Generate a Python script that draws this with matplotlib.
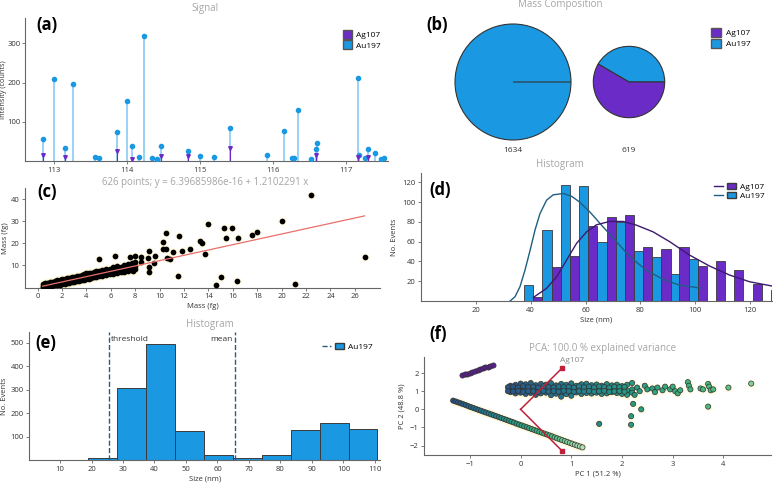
import numpy as np
import matplotlib.pyplot as plt
from matplotlib.lines import Line2D
from matplotlib.patches import Patch
from matplotlib.legend_handler import HandlerTuple
from matplotlib.colors import LinearSegmentedColormap, Normalize

plt.rcParams['font.family'] = ['Open Sans', 'DejaVu Sans']
plt.rcParams['font.size'] = 6

ag_col = '#6a2bc6'
au_col = '#1a98e2'
edge = '#3a3a3a'
grey = '#a5a5a5'

# ---- (a) signal
sig_x = [112.84, 113.0, 113.15, 113.26, 113.56, 113.61, 113.86, 114.0, 114.07, 114.16, 114.23,
         114.34, 114.41, 114.46, 114.83, 114.99, 115.19, 115.41, 115.91, 116.14, 116.25, 116.28,
         116.34, 116.51, 116.59, 116.6, 117.16, 117.17, 117.25, 117.30, 117.39, 117.48, 117.52]
sig_au = [55, 209, 34, 197, 11, 7, 74, 154, 38, 11, 320, 8, 6, 38, 25, 14, 9, 85, 16, 76, 7, 7,
          131, 5, 31, 45, 212, 15, 7, 30, 20, 5, 7]
sig_ag_x = [112.84, 113.15, 113.86, 114.07, 114.46, 114.83, 115.41, 116.59, 117.16, 117.30]
sig_ag = [16, 9, 26, 5, 14, 13, 33, 15, 11, 10]

# ---- (b) mass composition
pie_counts = [1634, 619]
pie_ag = [0.0, 0.584]
pie_au = [1.0, 0.416]

# ---- (c) mass vs mass
c_x = [0.4, 0.6, 0.8, 1.0, 1.2, 1.4, 1.6, 1.8, 2.0, 2.2, 2.4, 2.6, 2.8, 3.0, 3.2, 3.4, 3.6, 3.8,
       4.0, 4.2, 4.4, 4.6, 4.8, 5.0, 5.3, 5.6, 5.9, 6.2, 6.5, 6.8, 7.1, 7.4, 7.7, 8.0]
c_y_mid = [0.5, 0.7, 1.0, 1.2, 1.5, 1.7, 1.9, 2.2, 2.4, 2.7, 2.9, 3.1, 3.4, 3.6, 3.9, 4.1, 4.4, 4.6,
           4.8, 5.1, 5.3, 5.6, 5.8, 6.1, 6.4, 6.8, 7.1, 7.5, 7.9, 8.2, 8.6, 9.0, 9.3, 9.7]
c_y_up = [1.4, 1.8, 2.0, 2.4, 2.6, 2.9, 3.1, 3.4, 3.6, 3.8, 4.1, 4.3, 4.6, 4.8, 5.2, 5.3, 5.7, 6.0,
          6.3, 6.5, 6.6, 7.0, 7.3, 7.4, 7.7, 8.3, 8.5, 9.0, 9.5, 9.3, 10.2, 10.6, 11.0, 11.5]
c_y_lo = [0.2, 0.3, 0.4, 0.5, 0.6, 0.8, 1.0, 1.2, 1.5, 1.6, 1.9, 2.1, 2.3, 2.5, 2.8, 3.0, 3.3, 3.5,
          3.7, 3.9, 4.2, 4.5, 4.6, 4.9, 5.2, 5.6, 5.9, 6.1, 6.6, 6.9, 7.1, 7.6, 7.8, 8.3]
c_out_x = [26.8, 22.4, 20.05, 21.1, 17.95, 17.6, 15.96, 16.4, 16.3, 15.3, 15.4, 15.0, 14.6, 14.0,
           13.7, 13.3, 13.5, 12.5, 11.8, 11.6, 11.5, 11.1, 10.85, 10.5, 10.6, 10.3, 10.25, 10.5,
           9.6, 9.5, 9.1, 9.05, 9.1, 9.1, 8.5, 8.45, 8.0, 7.6, 6.3, 5.0, 7.8]
c_out_y = [13.8, 41.8, 30.3, 1.5, 25.2, 23.9, 26.8, 22.4, 2.7, 26.7, 22.4, 4.5, 0.9, 28.8,
           15.0, 21.1, 20.2, 17.4, 16.4, 23.2, 5.2, 15.8, 12.9, 24.5, 13.3, 20.5, 17.3, 17.3,
           14.1, 10.9, 16.7, 13.2, 7.1, 9.4, 13.9, 11.7, 14.4, 13.9, 14.1, 13.0, 7.3]
fit_a = 6.39685986e-16
fit_b = 1.2102291

# ---- (d) size histogram, two elements
d_bins = [37.6, 44.3, 50.9, 57.6, 64.3, 70.9, 77.6, 84.3, 90.9, 97.6, 104.3, 110.9, 117.6, 124.3]
d_au = [16, 72, 117, 116, 60, 80, 51, 45, 27, 42, 0, 0, 0, 0]
d_ag = [4, 34, 46, 76, 85, 87, 55, 53, 55, 35, 40, 31, 17, 11]
d_au_fit_x = [32.5, 34.3, 36.1, 37.9, 39.8, 41.6, 43.4, 45.8, 48.2, 51.9, 54.9, 57.9, 61.6, 66.4,
              71.3, 76.1, 82.2, 88.2, 94.3, 102.2]
d_au_fit_y = [0, 4.4, 14.5, 31, 51.5, 72, 88.5, 102, 107.4, 108.8, 106, 100, 90, 75, 60, 45, 31,
              22, 16, 13]
d_ag_fit_x = [41.0, 45.8, 49.5, 53.1, 56.7, 60.4, 64.0, 68.8, 73.7, 78.5, 84.6, 90.7, 97.9, 105.2,
              112.5, 119.8, 127.9]
d_ag_fit_y = [3.7, 12.8, 24.6, 41.4, 58.2, 70, 77.1, 80.5, 80.5, 76.8, 70, 60, 46.5, 35.4, 26.3,
              19.5, 15.2]

# ---- (e) size histogram, Au only
e_bins = [18.8, 28.0, 37.2, 46.4, 55.6, 64.8, 74.0, 83.2, 92.4, 101.6]
e_counts = [10, 306, 495, 126, 23, 10, 23, 128, 157, 133]
e_threshold = 25.4
e_mean = 65.7

# ---- (f) PCA scores
f_ag_x = [-1.15, -1.1, -1.05, -1.0, -0.95, -0.9, -0.85, -0.8, -0.75, -0.7, -0.65, -0.6, -0.55]
f_ag_y = [1.88, 1.93, 1.97, 2.02, 2.07, 2.12, 2.16, 2.21, 2.26, 2.31, 2.35, 2.40, 2.45]
f_diag_x = [-1.33, -1.28, -1.23, -1.18, -1.13, -1.08, -1.03, -0.98, -0.93, -0.88, -0.83, -0.78,
            -0.73, -0.68, -0.63, -0.58, -0.53, -0.48, -0.43, -0.38, -0.33, -0.28, -0.23, -0.18,
            -0.13, -0.08, -0.03, 0.02, 0.07, 0.12, 0.17, 0.22, 0.27, 0.32, 0.37, 0.42, 0.47,
            0.52, 0.57, 0.62, 0.67, 0.72, 0.77, 0.82, 0.87, 0.92, 0.97, 1.02, 1.07, 1.12, 1.17, 1.22]
f_diag_y = [0.48, 0.43, 0.38, 0.33, 0.28, 0.23, 0.17, 0.12, 0.07, 0.02, -0.03, -0.08, -0.13,
            -0.18, -0.23, -0.28, -0.33, -0.38, -0.43, -0.48, -0.53, -0.58, -0.63, -0.68, -0.73,
            -0.79, -0.84, -0.89, -0.94, -0.99, -1.04, -1.09, -1.14, -1.19, -1.24, -1.29, -1.34,
            -1.39, -1.44, -1.49, -1.55, -1.60, -1.65, -1.70, -1.75, -1.80, -1.85, -1.90, -1.95,
            -2.00, -2.05, -2.10]
f_band_x = [-0.2, -0.1, 0.0, 0.1, 0.2, 0.3, 0.4, 0.5, 0.6, 0.7, 0.8, 0.9, 1.0, 1.1, 1.2, 1.3,
            1.4, 1.5, 1.6, 1.7, 1.8, 1.9, 2.0, 2.1, 2.2]
f_band_up = [1.30, 1.35, 1.42, 1.38, 1.45, 1.33, 1.40, 1.36, 1.44, 1.32, 1.40, 1.35, 1.43, 1.30,
             1.38, 1.41, 1.33, 1.37, 1.30, 1.39, 1.32, 1.36, 1.28, 1.35, 1.45]
f_band_mid = [1.10, 1.15, 1.05, 1.12, 1.08, 1.15, 1.02, 1.10, 1.13, 1.06, 1.12, 1.08, 1.15, 1.05,
              1.10, 1.12, 1.06, 1.14, 1.08, 1.10, 1.05, 1.12, 1.08, 1.02, 1.10]
f_band_lo = [0.95, 0.88, 0.92, 0.85, 0.90, 0.80, 0.88, 0.92, 0.78, 0.86, 0.90, 0.84, 0.88, 0.93,
             0.85, 0.90, 0.87, 0.92, 0.85, 0.88, 0.95, 0.90, 0.85, 0.80, 0.92]
f_band_x2 = [-0.25, -0.15, -0.05, 0.05, 0.15, 0.25, 0.35, 0.45, 0.55, 0.65, 0.75, 0.85, 0.95,
             1.05, 1.15, 1.25, 1.35, 1.45, 1.55, 1.65, 1.75, 1.85, 1.95, 2.05]
f_band_y2a = [1.22, 1.25, 1.20, 1.28, 1.22, 1.25, 1.20, 1.27, 1.23, 1.21, 1.26, 1.22, 1.24, 1.20,
              1.27, 1.22, 1.25, 1.21, 1.26, 1.23, 1.20, 1.25, 1.22, 1.24]
f_band_y2b = [1.00, 0.98, 1.02, 0.97, 1.00, 0.99, 0.96, 1.01, 0.98, 1.00, 0.97, 1.02, 0.99, 0.96,
              1.00, 0.98, 1.01, 0.97, 0.99, 1.02, 0.96, 0.99, 1.00, 0.97]
f_sparse_x = [2.3, 2.35, 2.45, 2.5, 2.6, 2.65, 2.7, 2.8, 2.85, 2.95, 3.0, 3.05, 3.1, 3.15, 3.3,
              3.32, 3.35, 3.55, 3.6, 3.7, 3.72, 3.75, 3.8, 4.1, 4.55, 0.8, 1.0, 2.25,
              1.55, 2.18, 2.18, 2.22, 2.38, 3.7]
f_sparse_y = [1.2, 1.0, 1.3, 1.1, 1.15, 0.95, 1.2, 1.05, 1.25, 1.1, 1.25, 1.0, 0.88, 1.05, 1.5,
              1.3, 1.1, 1.15, 1.1, 1.4, 1.25, 1.05, 1.1, 1.2, 1.42, 0.7, 0.75, 0.8,
              -0.8, -0.38, -0.85, 0.3, 0.0, 0.15]
f_load_x = [0.82, 0.82]
f_load_y = [2.28, -2.3]


def box(l, t, r, b):
    return [l / 773, 1 - b / 486, (r - l) / 773, (b - t) / 486]


def style(ax):
    for s in ['top', 'right']:
        ax.spines[s].set_visible(False)
    for s in ['left', 'bottom']:
        ax.spines[s].set_color('#666666')
        ax.spines[s].set_linewidth(0.8)
    ax.tick_params(labelsize=5.5, colors='#666666', labelcolor='#333333', length=2.5, width=0.6,
                   pad=1.5)


def labels(ax, xl, yl, ylx, size=5.5):
    if xl:
        ax.set_xlabel(xl, fontsize=5.5, color='#333333', labelpad=2)
    ax.set_ylabel(yl, fontsize=size, color='#333333')
    ax.yaxis.set_label_coords(ylx, 0.5)


def ftext(x, y, s, **kw):
    fig.text(x / 773, 1 - y / 486, s, **kw)


fig = plt.figure(figsize=(7.73, 4.86), dpi=100)

# ---------------- (a)
ax = fig.add_axes(box(25, 18, 388, 161))
style(ax)
ax.tick_params(axis='y', length=2, pad=1)
ax.vlines(sig_x, 0, sig_au, color='#7cc6f2', lw=1.1, zorder=2)
ax.plot(sig_x, sig_au, 'o', color=au_col, ms=3.0, zorder=3)
ax.vlines(sig_ag_x, 0, sig_ag, color=ag_col, lw=0.8, zorder=3)
ax.plot(sig_ag_x, sig_ag, 'v', color=ag_col, ms=2.6, zorder=4)
ax.set_xlim(112.6, 117.57)
ax.set_ylim(0, 365)
ax.set_xticks([113, 114, 115, 116, 117])
ax.set_yticks([100, 200, 300])
labels(ax, None, 'Intensity (counts)', -0.049, size=5.2)
ax.legend(handles=[Patch(facecolor=ag_col, edgecolor='#555'), Patch(facecolor=au_col, edgecolor='#555')],
          labels=['Ag107', 'Au197'], loc='upper right', bbox_to_anchor=(1.0, 0.97), frameon=False,
          fontsize=6, handlelength=1.0, handleheight=1.3, labelspacing=0.15, handletextpad=0.5)
ftext(205, 8, 'Signal', color=grey, fontsize=7, ha='center', va='center')

# ---------------- (b)
axb = fig.add_axes(box(440, 10, 773, 160))
pie_centres = [(73, 78), (189, 78)]
for i in range(2):
    r = 58 * np.sqrt(pie_counts[i] / pie_counts[0])
    axb.pie([pie_au[i], pie_ag[i]], colors=[au_col, ag_col], startangle=0, counterclock=True,
            radius=r, center=pie_centres[i], frame=True,
            wedgeprops=dict(edgecolor='#333333', linewidth=0.8))
    axb.text(pie_centres[i][0], 10, str(pie_counts[i]), ha='center', va='center', fontsize=6,
             color='#333333')
axb.set_xlim(0, 333)
axb.set_ylim(0, 150)
axb.set_aspect('equal')
axb.axis('off')
axb.legend(handles=[Patch(facecolor=ag_col, edgecolor='#555'), Patch(facecolor=au_col, edgecolor='#555')],
           labels=['Ag107', 'Au197'], loc='upper left', bbox_to_anchor=(0.79, 0.93), frameon=False,
           fontsize=6, handlelength=1.3, handleheight=1.3, labelspacing=0.15, handletextpad=0.5)
ftext(560, 5, 'Mass Composition', color=grey, fontsize=7, ha='center', va='center')

# ---------------- (c)
ax = fig.add_axes(box(25, 188, 380, 287.7))
style(ax)
cx = c_x * 3 + c_out_x
cy = c_y_mid + c_y_up + c_y_lo + c_out_y
ax.scatter(cx, cy, s=40, color='#fff8cc', alpha=0.5, lw=0, zorder=2)
ax.scatter(cx, cy, s=17, color='black', lw=0, zorder=3)
lx = np.array([min(cx), max(cx)])
ax.plot(lx, fit_a + fit_b * lx, color='#e8706a', lw=0.9, zorder=4)
ax.set_xlim(-1.04, 28.06)
ax.set_ylim(-0.2, 45.1)
ax.set_xticks(range(0, 27, 2))
ax.set_yticks([10, 20, 30, 40])
labels(ax, 'Mass (fg)', 'Mass (fg)', -0.045)
ftext(205, 182, '626 points; y = 6.39685986e-16 + 1.2102291 x', color=grey, fontsize=7,
      ha='center', va='center')

# ---------------- (d)
ax = fig.add_axes(box(421, 173, 772, 301))
style(ax)
half = (d_bins[1] - d_bins[0]) / 2
ax.bar(d_bins, d_au, width=half, align='edge', color=au_col, edgecolor=edge, lw=0.6, zorder=2)
ax.bar([b + half for b in d_bins], d_ag, width=half, align='edge', color=ag_col, edgecolor=edge,
       lw=0.6, zorder=2)
ax.plot(d_au_fit_x, d_au_fit_y, color='#1f5f80', lw=1.0, zorder=3)
ax.plot(d_ag_fit_x, d_ag_fit_y, color='#3d1a6e', lw=1.0, zorder=3)
ax.set_xlim(0, 128)
ax.set_ylim(0, 129.5)
ax.set_xticks(range(20, 121, 20))
ax.set_yticks(range(20, 121, 20))
labels(ax, 'Size (nm)', 'No. Events', -0.065)
hd = [(Line2D([], [], color='#3d1a6e', lw=1), Patch(facecolor=ag_col, edgecolor=edge)),
      (Line2D([], [], color='#1f5f80', lw=1), Patch(facecolor=au_col, edgecolor=edge))]
ax.legend(hd, ['Ag107', 'Au197'], handler_map={tuple: HandlerTuple(ndivide=None, pad=0.4)},
          loc='upper right', bbox_to_anchor=(1.0, 0.98), frameon=False, fontsize=6,
          handlelength=2.6, labelspacing=0.1, handletextpad=0.5)
ftext(560, 165, 'Histogram', color=grey, fontsize=7, ha='center', va='center')

# ---------------- (e)
ax = fig.add_axes(box(29.3, 331.7, 380, 460.3))
style(ax)
ax.bar(e_bins, e_counts, width=9.2, align='edge', color=au_col, edgecolor=edge, lw=0.7, zorder=2)
ax.axvline(e_threshold, color='#2b5d7c', ls='--', lw=1.0, zorder=3)
ax.axvline(e_mean, color='#2b5d7c', ls='--', lw=1.0, zorder=3)
ax.text(e_threshold + 0.8, 515, 'threshold', fontsize=6, color='#333333', va='center', ha='left')
ax.text(e_mean - 0.8, 515, 'mean', fontsize=6, color='#333333', va='center', ha='right')
ax.set_xlim(0.25, 111.6)
ax.set_ylim(0, 547)
ax.set_xticks(range(10, 111, 10))
ax.set_yticks(range(100, 501, 100))
labels(ax, 'Size (nm)', 'No. Events', -0.06)
he = [(Line2D([], [], color='#2b5d7c', ls='--', lw=1), Patch(facecolor=au_col, edgecolor=edge))]
ax.legend(he, ['Au197'], handler_map={tuple: HandlerTuple(ndivide=None, pad=0.4)},
          loc='upper right', bbox_to_anchor=(1.0, 0.97), frameon=False, fontsize=6,
          handlelength=2.6, handletextpad=0.5)
ftext(210, 324, 'Histogram', color=grey, fontsize=7, ha='center', va='center')

# ---------------- (f)
ax = fig.add_axes(box(424.3, 357.3, 771, 455))
style(ax)
cmap = LinearSegmentedColormap.from_list('pca', ['#2c4a80', '#24788e', '#2aa07e', '#52bf82', '#c8e8c4'])
bx = f_band_x * 3 + f_band_x2 * 2 + f_sparse_x
by = f_band_up + f_band_mid + f_band_lo + f_band_y2a + f_band_y2b + f_sparse_y
for xs, ys, c, norm in [(f_diag_x, f_diag_y, f_diag_x, Normalize(-1.4, 1.35)),
                        (bx, by, bx, Normalize(-0.6, 5.5))]:
    ax.scatter(xs, ys, s=40, color='#fff8cc', alpha=0.5, lw=0, zorder=2)
    ax.scatter(xs, ys, s=14, c=c, cmap=cmap, norm=norm, edgecolors='#303030', linewidths=0.5,
               zorder=3)
ax.scatter(f_ag_x, f_ag_y, s=14, color='#5a1f8e', edgecolors='#303030', linewidths=0.5, zorder=3)
for lx_, ly_ in zip(f_load_x, f_load_y):
    ax.plot([0, lx_], [0, ly_], color='#c0203a', lw=1.1, zorder=4)
    ax.plot([lx_], [ly_], 's', color='#c0203a', ms=2.5, zorder=4)
ax.text(f_load_x[0] - 0.05, f_load_y[0] + 0.22, 'Ag107', fontsize=6, color='#888888',
        ha='left', va='bottom')
ax.set_xlim(-1.9, 4.94)
ax.set_ylim(-2.52, 2.87)
ax.set_xticks(range(-1, 5))
ax.set_yticks(range(-2, 3))
labels(ax, 'PC 1 (51.2 %)', 'PC 2 (48.8 %)', -0.055)
ftext(603, 348, 'PCA: 100.0 % explained variance', color=grey, fontsize=7, ha='center',
      va='center')

# panel letters
for lbl, px, py in [('(a)', 36, 25), ('(b)', 426, 25), ('(c)', 37, 192), ('(d)', 429, 190),
                    ('(e)', 35, 343), ('(f)', 429, 334)]:
    ftext(px, py, lbl, fontsize=12, fontweight='bold', va='center', ha='left')

plt.savefig('out.png', dpi=100)
